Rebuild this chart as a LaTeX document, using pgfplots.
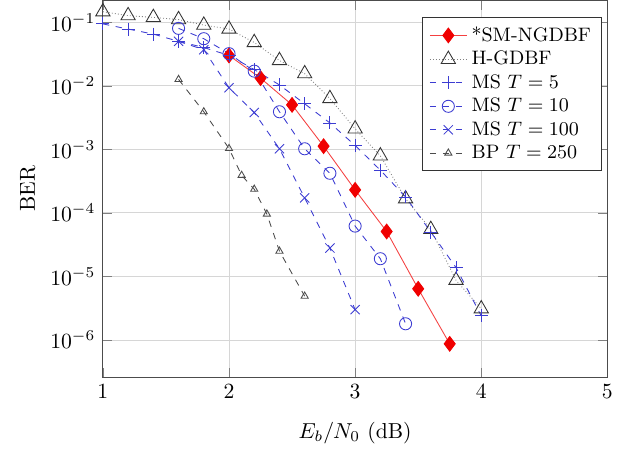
\documentclass[border=0pt]{standalone}
\usepackage{pgfplots}
\pgfplotsset{compat=1.18}
\definecolor{msblue}{RGB}{60,60,210}
\definecolor{smred}{RGB}{240,0,0}

\begin{document}
\begin{tikzpicture}
  \begin{axis}[
    scale only axis,
    width=233pt,
    height=174pt,
    ymode=log,
    xmin=1, xmax=5,
    ymin=2.6e-7, ymax=0.22,
    xtick={1,2,3,4,5},
    ytick={1e-1,1e-2,1e-3,1e-4,1e-5,1e-6},
    xlabel={$E_b/N_0$ (dB)},
    ylabel={BER},
    xlabel style={yshift=-4pt},
    grid=both,
    major grid style={black!16},
    minor grid style={black!9},
    axis line style={black!70},
    legend cell align=left,
    legend style={
      at={(0.99,0.955)},
      anchor=north east,
      font=\small,
      draw=black!80,
      fill=white,
      row sep=-1pt
    },
    clip=false
  ]
% *SM-NGDBF
\addplot[smred!75, thin, mark=diamond*, mark size=3.4pt, mark options={solid, fill=smred, draw=smred}] coordinates {
  (2.00,3.0e-2) (2.25,1.32e-2) (2.50,5.0e-3) (2.75,1.12e-3)
  (3.00,2.3e-4) (3.25,5.1e-5) (3.50,6.4e-6) (3.75,8.7e-7)};
\addlegendentry{*SM-NGDBF}
% H-GDBF
\addplot[black!50, densely dotted, mark=triangle, mark size=3.8pt, mark options={solid, black!80}] coordinates {
  (1.0,0.146) (1.2,0.127) (1.4,0.119) (1.6,0.110) (1.8,0.090)
  (2.0,0.078) (2.2,0.048) (2.4,0.025) (2.6,1.55e-2) (2.8,6.3e-3)
  (3.0,2.1e-3) (3.2,7.9e-4) (3.4,1.67e-4) (3.6,5.5e-5) (3.8,8.7e-6) (4.0,3.1e-6)};
\addlegendentry{H-GDBF}
% MS T=5
\addplot[msblue, dashed, mark=+, mark size=3pt, mark options={solid}] coordinates {
  (1.0,0.094) (1.2,0.078) (1.4,0.065) (1.6,0.050) (1.8,0.040)
  (2.0,0.030) (2.2,0.018) (2.4,1.03e-2) (2.6,5.2e-3) (2.8,2.6e-3)
  (3.0,1.15e-3) (3.2,4.7e-4) (3.4,1.78e-4) (3.6,5.0e-5) (3.8,1.38e-5) (4.0,2.4e-6)};
\addlegendentry{MS $T=5$}
% MS T=10
\addplot[msblue, dashed, mark=o, mark size=2.8pt, mark options={solid}] coordinates {
  (1.6,0.080) (1.8,0.055) (2.0,0.032) (2.2,0.017) (2.4,3.9e-3)
  (2.6,1.02e-3) (2.8,4.2e-4) (3.0,6.2e-5) (3.2,1.9e-5) (3.4,1.8e-6)};
\addlegendentry{MS $T=10$}
% MS T=100
\addplot[msblue, dashed, mark=x, mark size=3pt, mark options={solid}] coordinates {
  (1.6,0.050) (1.8,0.037) (2.0,9.3e-3) (2.2,3.8e-3) (2.4,1.02e-3)
  (2.6,1.72e-4) (2.8,2.8e-5) (3.0,3.0e-6)};
\addlegendentry{MS $T=100$}
% BP T=250
\addplot[black!70, dashed, mark=triangle, mark size=1.9pt, mark options={solid}] coordinates {
  (1.6,1.26e-2) (1.8,3.9e-3) (2.0,1.03e-3) (2.1,3.9e-4) (2.2,2.36e-4)
  (2.3,9.6e-5) (2.4,2.5e-5) (2.6,4.9e-6)};
\addlegendentry{BP $T=250$}
  \end{axis}
  \path ([xshift=-6pt]current bounding box.west);
\end{tikzpicture}
\end{document}
